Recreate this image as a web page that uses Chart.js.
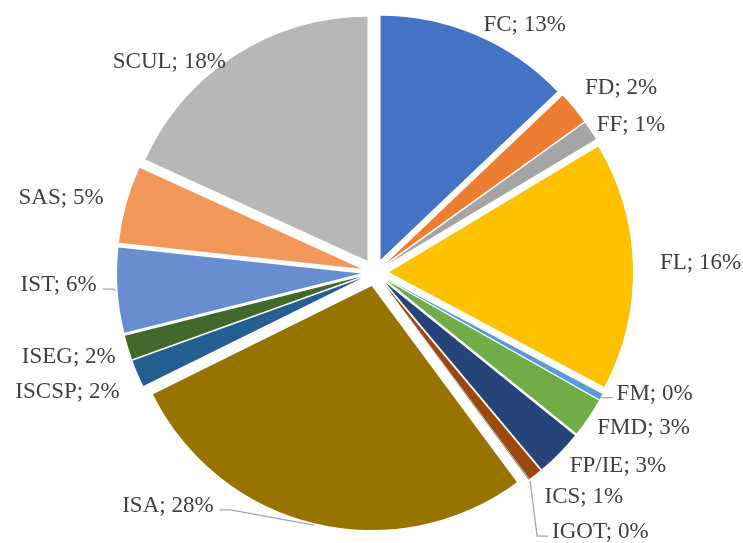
<!DOCTYPE html>
<html>
<head>
<meta charset="utf-8">
<script src="https://cdn.jsdelivr.net/npm/chart.js@4"></script>
<style>
  html, body { margin: 0; padding: 0; background: #fff; }
  #wrap { width: 743px; height: 543px; }
</style>
</head>
<body>
<div id="wrap"><canvas id="chart1"></canvas></div>
<script>
/************* data ********* */
const units = ["FC", "FD", "FF", "FL", "FM", "FMD", "FP/IE", "ICS", "IGOT", "ISA", "ISCSP", "ISEG", "IST", "SAS", "SCUL"];
const shares = [12.9, 2.2, 1.3, 16.4, 0.4, 2.6, 3.1, 0.9, 0.05, 27.85, 1.8, 1.6, 5.6, 5.1, 18.2];
const sliceColors = ['#4472C4', '#ED7D31', '#A5A5A5', '#FFC000', '#5B9BD5', '#70AD47',
                     '#264478', '#9E480E', '#636363', '#997300', '#255E91', '#43682B',
                     '#698ED0', '#F1975A', '#B7B7B7'];

/************* label layout ********* */
// nudges (px) away from the default spot on each slice's bisector
const labelShift = {
    "FC": [2, 1], "FD": [2, -12], "FF": [-4, 1], "FL": [15, -3],
    "FM": [5, -9], "FMD": [-1, 4], "FP/IE": [2, 4], "ICS": [2, 13],
    "IGOT": [16, 43], "ISA": [-98, -29], "ISCSP": [-7, 14], "ISEG": [-1, 6],
    "IST": [-9, -6], "SAS": [-11, -3], "SCUL": [-3, 17]
};
const withLeader = ["FM", "IGOT", "ISA", "IST"];

const EXPLODE = 14;

// every slice pushed out the same distance along its bisector
const explodePie = {
    id: 'explodePie',
    beforeDatasetDraw(chart, args) {
        const ctx = chart.ctx;
        args.meta.data.forEach(arc => {
            const mid = (arc.startAngle + arc.endAngle) / 2;
            ctx.save();
            ctx.translate(Math.cos(mid) * EXPLODE, Math.sin(mid) * EXPLODE);
            arc.draw(ctx);
            ctx.restore();
        });
        return false;
    }
};

const pieLabels = {
    id: 'pieLabels',
    afterDatasetsDraw(chart) {
        const ctx = chart.ctx;
        const arcs = chart.getDatasetMeta(0).data;
        const total = shares.reduce((a, b) => a + b, 0);
        ctx.save();
        ctx.font = '23px "Liberation Serif"';
        ctx.textBaseline = 'middle';
        arcs.forEach((arc, i) => {
            const mid = (arc.startAngle + arc.endAngle) / 2;
            const cos = Math.cos(mid), sin = Math.sin(mid);
            const r = arc.outerRadius + EXPLODE;
            const right = cos >= 0;
            const shift = labelShift[units[i]] || [0, 0];
            const x = arc.x + cos * (r + 12) + shift[0];
            const y = arc.y + sin * (r + 12) + shift[1];

            if (withLeader.includes(units[i])) {
                const ex = right ? x - 4 : x + 6;
                const kx = right ? ex - 11 : ex + 11;
                const ly = y + 4;
                ctx.strokeStyle = '#A6A6A6';
                ctx.lineWidth = 1.3;
                ctx.beginPath();
                ctx.moveTo(arc.x + cos * (r + 2), arc.y + sin * (r + 2));
                ctx.lineTo(kx, ly);
                ctx.lineTo(ex, ly);
                ctx.stroke();
            }

            ctx.fillStyle = '#404040';
            ctx.textAlign = right ? 'left' : 'right';
            ctx.fillText(units[i] + '; ' + Math.round(shares[i] / total * 100) + '%', x, y);
        });
        ctx.restore();
    }
};

new Chart("chart1", {
    type: "pie",
    data: {
        labels: units,
        datasets: [{
            data: shares,
            backgroundColor: sliceColors,
            borderWidth: 0,
            radius: 244
        }]
    },
    options: {
        responsive: true,
        maintainAspectRatio: false,
        animation: false,
        layout: {
            padding: { left: 7, right: 0, top: 2, bottom: 0 }
        },
        plugins: {
            legend: { display: false },
            tooltip: { enabled: false }
        }
    },
    plugins: [explodePie, pieLabels]
});
</script>
</body>
</html>
